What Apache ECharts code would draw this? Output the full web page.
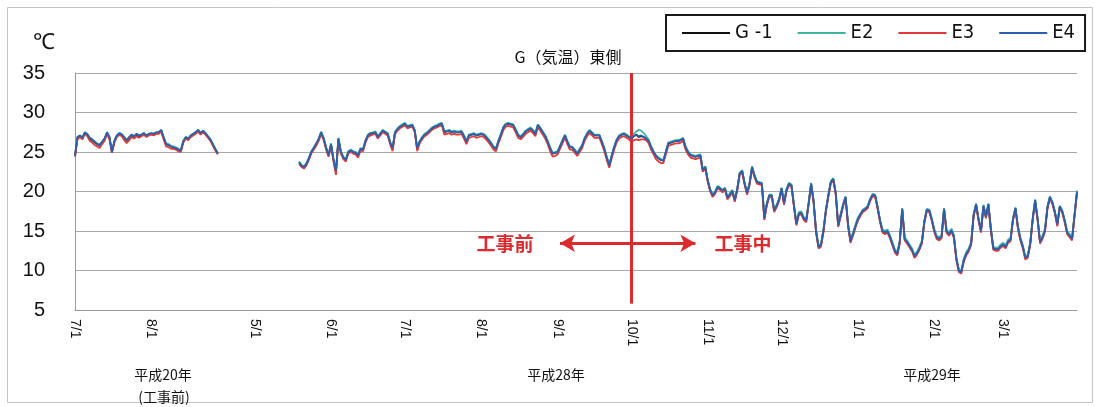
<!DOCTYPE html>
<html>
<head>
<meta charset="utf-8">
<script src="https://cdn.jsdelivr.net/npm/echarts@6/dist/echarts.min.js"></script>
<style>
  html, body { margin: 0; padding: 0; background: #fff; }
  #chart { width: 1095px; height: 407px; }
</style>
</head>
<body>
<div id="chart"></div>
<script>
// 横軸の期間（平成20年 と 平成28〜29年）
const periods = [['2008/7/1', '2008/8/31'], ['2016/4/20', '2017/3/31']];
const seg1Start = '2008/7/1';
const seg2Start = '2016/5/19';
const seriesNames = ['G -1', 'E2', 'E3', 'E4'];
const yMin = 5, yMax = 35, yStep = 5;

// 日平均気温（℃） 平成20年 7/1〜
const g1Seg1 = [24.5,26.8,27.0,26.8,27.4,27.2,26.7,26.5,26.2,26.0,
  25.8,26.2,26.6,27.4,26.8,25.0,26.3,27.0,27.3,27.2,
  26.8,26.4,26.8,27.1,26.9,27.2,27.0,27.1,27.3,27.0,
  27.2,27.3,27.2,27.4,27.4,27.7,26.8,26.0,25.9,25.7,
  25.6,25.5,25.3,25.2,26.3,26.8,26.6,27.0,27.2,27.4,
  27.7,27.3,27.6,27.3,26.9,26.5,25.9,25.3,24.8];
const e2Seg1 = [24.6,26.9,27.1,26.9,27.5,27.3,26.8,26.6,26.3,26.1,
  25.9,26.3,26.7,27.5,26.9,25.1,26.4,27.1,27.4,27.3,
  26.9,26.5,26.9,27.2,27.0,27.3,27.1,27.2,27.4,27.1,
  27.3,27.4,27.3,27.5,27.5,27.8,26.9,26.1,26.0,25.8,
  25.7,25.6,25.4,25.3,26.4,26.9,26.7,27.1,27.3,27.5,
  27.8,27.4,27.7,27.4,27.0,26.6,26.0,25.4,24.9];
const e3Seg1 = [24.4,26.6,26.9,26.6,27.3,27.0,26.4,26.2,25.9,25.7,
  25.5,26.0,26.4,27.3,26.6,24.9,26.2,26.9,27.2,27.0,
  26.5,26.1,26.5,26.9,26.7,27.0,26.8,27.0,27.2,26.9,
  27.1,27.2,27.1,27.3,27.3,27.6,26.6,25.7,25.6,25.4,
  25.4,25.3,25.1,25.0,26.2,26.7,26.5,26.9,27.1,27.3,
  27.6,27.2,27.5,27.2,26.8,26.4,25.8,25.2,24.7];
const e4Seg1 = [24.5,26.9,27.1,26.8,27.5,27.2,26.8,26.6,26.3,26.0,
  25.9,26.3,26.7,27.5,26.9,25.0,26.4,27.1,27.4,27.2,
  26.9,26.5,26.9,27.2,27.0,27.3,27.1,27.2,27.4,27.1,
  27.3,27.4,27.3,27.5,27.5,27.8,26.9,26.0,25.9,25.7,
  25.6,25.5,25.3,25.2,26.4,26.9,26.7,27.1,27.3,27.5,
  27.8,27.4,27.7,27.4,27.0,26.6,26.0,25.4,24.8];

// 日平均気温（℃） 平成28年 5/19〜平成29年 3/31
const g1Seg2 = [23.7,23.3,23.1,23.5,24.2,25.0,25.5,26.0,26.6,27.5,
  26.7,25.5,24.6,26.0,24.0,22.5,26.7,25.0,24.3,24.0,
  25.0,25.2,25.0,24.9,24.6,25.4,25.3,26.4,27.1,27.3,
  27.4,27.5,26.9,27.3,27.7,27.5,27.3,26.2,25.4,27.5,
  27.9,28.2,28.4,28.6,28.2,28.3,28.4,27.7,25.4,26.3,
  26.8,27.2,27.4,27.7,28.0,28.2,28.3,28.5,28.6,27.5,
  27.6,27.7,27.5,27.6,27.5,27.5,27.6,27.0,26.3,27.1,
  27.2,27.3,27.1,27.2,27.3,27.2,26.9,26.5,26.1,25.6,
  25.4,26.4,27.2,28.1,28.5,28.6,28.5,28.4,27.8,27.1,
  26.9,27.2,27.6,27.8,28.0,27.7,27.3,28.4,28.0,27.5,
  27.0,26.3,25.5,24.8,24.9,25.0,25.7,26.4,27.1,26.3,
  25.6,25.6,25.2,24.8,25.3,25.8,26.7,27.3,27.7,27.4,
  27.1,27.1,27.1,26.3,25.4,24.3,23.3,24.5,25.6,26.5,
  27.0,27.2,27.3,27.1,26.9,26.7,27.0,27.2,26.9,27.0,
  26.9,26.7,26.4,25.6,25.0,24.5,24.2,24.0,23.9,25.0,
  26.1,26.2,26.3,26.4,26.4,26.5,26.7,25.6,25.0,24.6,
  24.5,24.4,24.5,24.6,22.7,23.1,21.4,20.2,19.5,19.9,
  20.6,20.4,20.1,20.4,19.2,19.6,20.1,18.9,20.3,22.3,
  22.6,21.0,19.8,21.0,23.1,22.0,21.2,21.1,21.0,16.6,
  18.4,19.5,19.5,17.6,18.2,19.0,20.4,18.5,20.2,21.0,
  20.8,18.3,15.9,17.2,17.3,16.6,16.3,18.5,21.0,18.8,
  15.0,13.0,13.2,15.0,17.6,19.5,21.2,21.6,19.8,15.7,
  17.0,18.3,19.3,15.8,13.7,14.6,15.6,16.5,17.1,17.6,
  17.8,18.1,19.0,19.6,19.5,18.0,16.3,15.0,14.8,15.0,
  14.3,13.4,12.5,12.1,13.6,17.8,14.0,13.6,13.1,12.6,
  11.8,12.2,12.8,13.6,16.2,17.7,17.6,16.5,15.1,14.2,
  14.0,14.3,17.8,15.0,14.6,15.1,14.3,11.5,10.0,9.8,
  11.3,12.1,12.6,13.4,17.0,18.4,16.5,15.0,18.2,16.8,
  18.4,15.3,12.8,12.7,12.7,13.1,13.3,13.0,13.7,13.9,
  16.5,17.9,15.5,14.0,13.0,11.6,11.8,13.4,16.5,18.9,
  16.5,13.6,14.2,15.1,18.0,19.3,18.6,17.4,15.8,18.1,
  17.5,16.3,14.8,14.4,14.0,17.0,20.0];
const e2Seg2 = [23.8,23.4,23.2,23.6,24.3,25.1,25.6,26.1,26.7,27.6,
  26.8,25.6,24.7,26.1,24.1,22.7,26.8,25.1,24.4,24.1,
  25.1,25.3,25.1,25.0,24.7,25.5,25.4,26.5,27.2,27.4,
  27.5,27.6,27.0,27.4,27.8,27.6,27.4,26.3,25.5,27.6,
  28.0,28.3,28.5,28.7,28.3,28.4,28.5,27.8,25.5,26.4,
  26.9,27.3,27.5,27.8,28.1,28.3,28.4,28.6,28.7,27.6,
  27.7,27.8,27.6,27.7,27.6,27.6,27.7,27.1,26.4,27.2,
  27.3,27.4,27.2,27.3,27.4,27.3,27.0,26.6,26.2,25.7,
  25.5,26.5,27.3,28.2,28.6,28.7,28.6,28.5,27.9,27.2,
  27.0,27.3,27.7,27.9,28.1,27.8,27.4,28.5,28.1,27.6,
  27.1,26.4,25.6,24.9,25.0,25.1,25.8,26.5,27.2,26.4,
  25.7,25.7,25.3,24.9,25.4,25.9,26.8,27.4,27.8,27.5,
  27.2,27.2,27.2,26.4,25.5,24.4,23.4,24.6,25.7,26.6,
  27.1,27.3,27.4,27.2,27.0,26.8,27.3,27.6,27.8,27.7,
  27.4,27.0,26.6,25.8,25.1,24.6,24.3,24.1,24.0,25.1,
  26.2,26.3,26.4,26.5,26.5,26.6,26.8,25.7,25.1,24.7,
  24.6,24.5,24.6,24.7,22.8,23.2,21.5,20.3,19.6,20.0,
  20.7,20.5,20.2,20.5,19.3,19.8,20.2,19.1,20.4,22.4,
  22.7,21.1,19.9,21.1,23.2,22.1,21.3,21.2,21.1,16.8,
  18.5,19.6,19.6,17.8,18.3,19.1,20.5,18.7,20.3,21.1,
  20.9,18.4,16.1,17.4,17.5,16.8,16.5,18.6,21.1,18.9,
  15.1,13.2,13.4,15.2,17.7,19.6,21.3,21.7,19.9,15.9,
  17.2,18.4,19.4,16.0,13.9,14.8,15.8,16.7,17.2,17.7,
  17.9,18.2,19.1,19.7,19.6,18.1,16.4,15.2,15.0,15.2,
  14.5,13.6,12.7,12.3,13.8,17.9,14.2,13.8,13.3,12.8,
  12.0,12.4,13.0,13.8,16.3,17.8,17.7,16.6,15.3,14.4,
  14.2,14.5,17.9,15.2,14.8,15.3,14.5,11.7,10.2,10.0,
  11.5,12.3,12.8,13.6,17.1,18.5,16.6,15.2,18.3,16.9,
  18.5,15.4,13.0,12.9,12.9,13.3,13.5,13.2,13.9,14.1,
  16.6,18.0,15.6,14.2,13.2,11.8,12.0,13.6,16.6,19.0,
  16.6,13.8,14.4,15.3,18.1,19.4,18.7,17.5,16.0,18.2,
  17.6,16.4,15.0,14.6,14.2,17.1,20.1];
const e3Seg2 = [23.5,23.1,22.9,23.3,24.0,24.8,25.3,25.8,26.4,27.3,
  26.5,25.3,24.4,25.8,23.8,22.1,26.5,24.8,24.1,23.8,
  24.8,25.0,24.8,24.7,24.3,25.2,25.1,26.2,26.9,27.1,
  27.2,27.3,26.7,27.1,27.5,27.3,27.1,26.0,25.1,27.3,
  27.7,28.0,28.2,28.4,28.0,28.1,28.2,27.5,25.1,26.1,
  26.6,27.0,27.2,27.5,27.8,28.0,28.1,28.3,28.4,27.2,
  27.3,27.4,27.2,27.3,27.2,27.2,27.3,26.7,26.0,26.8,
  26.9,27.0,26.8,26.9,27.0,26.9,26.6,26.2,25.8,25.3,
  25.1,26.1,26.9,27.8,28.2,28.3,28.2,28.1,27.5,26.8,
  26.6,26.9,27.3,27.5,27.7,27.4,27.0,28.1,27.7,27.2,
  26.7,26.0,25.1,24.4,24.5,24.7,25.4,26.1,26.8,26.0,
  25.3,25.3,24.9,24.5,25.0,25.5,26.4,27.0,27.4,27.1,
  26.8,26.8,26.8,26.0,25.1,24.0,23.0,24.2,25.3,26.2,
  26.7,26.9,27.0,26.8,26.6,26.3,26.5,26.6,26.5,26.6,
  26.6,26.5,26.1,25.3,24.7,24.1,23.8,23.6,23.6,24.7,
  25.8,25.9,26.0,26.1,26.1,26.2,26.4,25.3,24.7,24.3,
  24.2,24.1,24.2,24.3,22.5,22.9,21.2,20.0,19.3,19.7,
  20.4,20.2,19.9,20.2,19.0,19.4,19.9,18.7,20.1,22.1,
  22.4,20.8,19.6,20.8,22.9,21.8,21.0,20.9,20.8,16.4,
  18.2,19.3,19.3,17.4,18.0,18.8,20.2,18.3,20.0,20.8,
  20.6,18.1,15.7,17.0,17.1,16.4,16.1,18.3,20.8,18.6,
  14.8,12.8,13.0,14.8,17.4,19.3,21.0,21.4,19.6,15.5,
  16.8,18.1,19.1,15.6,13.5,14.4,15.4,16.3,16.9,17.4,
  17.6,17.9,18.8,19.4,19.3,17.8,16.1,14.8,14.6,14.8,
  14.1,13.2,12.3,11.9,13.4,17.6,13.8,13.4,12.9,12.4,
  11.6,12.0,12.6,13.4,16.0,17.5,17.4,16.3,14.9,14.0,
  13.8,14.1,17.6,14.8,14.4,14.9,14.1,11.3,9.8,9.6,
  11.1,11.9,12.4,13.2,16.8,18.2,16.3,14.8,18.0,16.6,
  18.2,15.1,12.6,12.5,12.5,12.9,13.1,12.8,13.5,13.7,
  16.3,17.7,15.3,13.8,12.8,11.4,11.6,13.2,16.3,18.7,
  16.3,13.4,14.0,14.9,17.8,19.1,18.4,17.2,15.6,17.9,
  17.3,16.1,14.6,14.2,13.8,16.8,19.8];
const e4Seg2 = [23.7,23.3,23.1,23.5,24.2,25.0,25.5,26.1,26.7,27.5,
  26.7,25.5,24.6,26.0,24.0,22.6,26.7,25.0,24.3,24.0,
  25.0,25.2,25.0,24.9,24.6,25.4,25.3,26.4,27.1,27.4,
  27.4,27.5,26.9,27.3,27.7,27.5,27.3,26.2,25.5,27.5,
  27.9,28.2,28.4,28.6,28.2,28.3,28.4,27.7,25.5,26.3,
  26.8,27.2,27.4,27.7,28.0,28.2,28.3,28.5,28.6,27.6,
  27.6,27.7,27.5,27.6,27.5,27.5,27.6,27.0,26.3,27.1,
  27.2,27.3,27.1,27.2,27.3,27.2,26.9,26.5,26.1,25.6,
  25.4,26.4,27.2,28.1,28.5,28.6,28.5,28.4,27.8,27.1,
  26.9,27.2,27.6,27.8,28.0,27.7,27.3,28.4,28.0,27.5,
  27.0,26.3,25.5,24.8,24.9,25.0,25.7,26.4,27.1,26.3,
  25.6,25.6,25.2,24.8,25.3,25.8,26.7,27.3,27.7,27.4,
  27.1,27.1,27.1,26.3,25.4,24.3,23.3,24.5,25.6,26.5,
  27.0,27.2,27.3,27.1,26.9,26.7,27.0,27.2,27.0,27.1,
  26.9,26.7,26.4,25.6,25.0,24.5,24.2,24.0,23.9,25.0,
  26.1,26.2,26.3,26.4,26.4,26.5,26.7,25.6,25.0,24.6,
  24.5,24.4,24.5,24.6,22.7,23.1,21.4,20.2,19.5,19.9,
  20.6,20.4,20.1,20.4,19.2,19.6,20.1,18.9,20.3,22.3,
  22.6,21.0,19.8,21.0,23.1,22.0,21.2,21.1,21.0,16.6,
  18.4,19.5,19.5,17.6,18.2,19.0,20.4,18.5,20.2,21.0,
  20.8,18.3,15.9,17.2,17.3,16.6,16.3,18.5,21.0,18.8,
  15.0,13.0,13.2,15.0,17.6,19.5,21.2,21.6,19.8,15.7,
  17.0,18.3,19.3,15.8,13.7,14.6,15.6,16.5,17.1,17.6,
  17.8,18.1,19.0,19.6,19.5,18.0,16.3,15.0,14.8,15.0,
  14.3,13.4,12.5,12.1,13.6,17.8,14.0,13.6,13.1,12.6,
  11.8,12.2,12.8,13.6,16.2,17.7,17.6,16.5,15.1,14.2,
  14.0,14.3,17.8,15.0,14.6,15.1,14.3,11.5,10.0,9.8,
  11.3,12.1,12.6,13.4,17.0,18.4,16.5,15.0,18.2,16.8,
  18.4,15.3,12.8,12.7,12.7,13.1,13.3,13.0,13.7,13.9,
  16.5,17.9,15.5,14.0,13.0,11.6,11.8,13.4,16.5,18.9,
  16.5,13.6,14.2,15.1,18.0,19.3,18.6,17.4,15.8,18.1,
  17.5,16.3,14.8,14.4,14.0,17.0,20.0];

// 工事開始日と矢印の範囲
const constructionStart = '2016/10/1';
const arrowLeftEnd = '2016/9/2';
const arrowRightEnd = '2016/10/27';
const arrowLevel = 13.45;

// カテゴリ（日付）を作る
function fmt(d) {
    return d.getFullYear() + '/' + (d.getMonth() + 1) + '/' + d.getDate();
}
let categories = [];
periods.forEach(function(p) {
    let d = new Date(p[0]);
    let end = new Date(p[1]);
    while (d <= end) {
        categories.push(fmt(d));
        d.setDate(d.getDate() + 1);
    }
});

function buildData(seg1, seg2) {
    let out = categories.map(() => null);
    let i1 = categories.indexOf(seg1Start);
    let i2 = categories.indexOf(seg2Start);
    seg1.forEach((v, k) => { out[i1 + k] = v; });
    seg2.forEach((v, k) => { out[i2 + k] = v; });
    return out;
}

const colors = ['#111111', '#3fb39f', '#e2383a', '#2a5fae'];
const allData = [
    buildData(g1Seg1, g1Seg2),
    buildData(e2Seg1, e2Seg2),
    buildData(e3Seg1, e3Seg2),
    buildData(e4Seg1, e4Seg2)
];

let myChart = echarts.init(document.getElementById('chart'));
const red = '#dd2a2e';
const jp = '"Noto Sans CJK JP", sans-serif';

let series = seriesNames.map(function(name, i) {
    return {
        name: name,
        type: 'line',
        data: allData[i],
        symbol: 'none',
        smooth: false,
        connectNulls: false,
        lineStyle: { color: colors[i], width: i === 3 ? 1.7 : 1.8 },
        itemStyle: { color: colors[i] },
        z: 2 + i
    };
});

// 工事開始の赤線と矢印
series[3].markLine = {
    silent: true,
    symbol: ['none', 'none'],
    label: { show: false },
    lineStyle: { color: red, width: 3, type: 'solid' },
    data: [
        [{ coord: [constructionStart, yMax] }, { coord: [constructionStart, 5.8] }],
        [{ coord: [constructionStart, arrowLevel], symbol: 'none' },
         { coord: [arrowLeftEnd, arrowLevel], symbol: 'arrow', symbolSize: [13, 15] }],
        [{ coord: [constructionStart, arrowLevel], symbol: 'none' },
         { coord: [arrowRightEnd, arrowLevel], symbol: 'arrow', symbolSize: [13, 15] }]
    ]
};

let option = {
    animation: false,
    backgroundColor: '#fff',
    grid: { left: 75, right: 18, top: 73, bottom: 97 },
    legend: {
        data: seriesNames,
        left: 666,
        top: 15,
        padding: [8, 10, 8, 16],
        icon: 'rect',
        itemWidth: 48,
        itemHeight: 2,
        itemGap: 25,
        borderColor: '#1a1a1a',
        borderWidth: 2,
        textStyle: { fontSize: 20, color: '#111', fontFamily: '"DejaVu Sans Condensed", "Liberation Sans Narrow", sans-serif' }
    },
    xAxis: {
        type: 'category',
        data: categories,
        boundaryGap: false,
        axisTick: { show: false },
        axisLine: { lineStyle: { color: '#999', width: 1 } },
        axisLabel: {
            interval: function(index, value) {
                return value.endsWith('/1');
            },
            rotate: -90,
            margin: 9,
            fontSize: 14,
            color: '#111',
            fontFamily: '"Liberation Sans", sans-serif',
            formatter: function(value) {
                return value.split('/').slice(1).join('/');
            }
        },
        splitLine: { show: false }
    },
    yAxis: {
        type: 'value',
        min: yMin,
        max: yMax,
        interval: yStep,
        axisLine: { show: true, lineStyle: { color: '#999' } },
        axisTick: { show: false },
        axisLabel: { fontSize: 20, color: '#111', margin: 30, fontFamily: '"Liberation Sans", sans-serif' },
        splitLine: { lineStyle: { color: '#a8a8a8', width: 1 } }
    },
    graphic: [
        { type: 'rect', left: 5, top: 5, shape: { width: 1085, height: 395 },
          style: { fill: 'none', stroke: '#c4c4c4', lineWidth: 1 }, z: -1 },
        { type: 'text', x: 33, y: 32, style: { text: '℃', font: '22px "Liberation Sans", sans-serif', fill: '#111' } },
        { type: 'text', x: 568, y: 57, style: { text: 'G（気温）東側', font: '16px ' + jp, fill: '#111', textAlign: 'center', textVerticalAlign: 'middle' } },
        { type: 'text', x: 505, y: 244, style: { text: '工事前', font: 'bold 19px ' + jp, fill: red, textAlign: 'center', textVerticalAlign: 'middle' } },
        { type: 'text', x: 743, y: 244, style: { text: '工事中', font: 'bold 19px ' + jp, fill: red, textAlign: 'center', textVerticalAlign: 'middle' } },
        { type: 'text', x: 163, y: 375, style: { text: '平成20年', font: '14px ' + jp, fill: '#111', textAlign: 'center', textVerticalAlign: 'middle' } },
        { type: 'text', x: 164, y: 397, style: { text: '(工事前)', font: '14px ' + jp, fill: '#111', textAlign: 'center', textVerticalAlign: 'middle' } },
        { type: 'text', x: 556, y: 375, style: { text: '平成28年', font: '14px ' + jp, fill: '#111', textAlign: 'center', textVerticalAlign: 'middle' } },
        { type: 'text', x: 932, y: 375, style: { text: '平成29年', font: '14px ' + jp, fill: '#111', textAlign: 'center', textVerticalAlign: 'middle' } }
    ],
    series: series
};

myChart.setOption(option);
window.addEventListener('resize', function() {
    myChart.resize();
});
</script>
</body>
</html>
